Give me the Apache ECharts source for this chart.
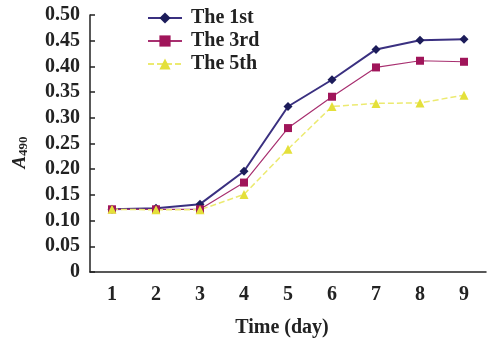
<!DOCTYPE html>
<html><head><meta charset="utf-8">
<script src="https://cdn.jsdelivr.net/npm/echarts@6/dist/echarts.min.js"></script>
<style>html,body{margin:0;padding:0;background:#fff}#c{width:492px;height:345px}</style>
</head><body><div id="c"></div>
<script>
const days = ['1','2','3','4','5','6','7','8','9'];
const first = [0.122, 0.124, 0.132, 0.196, 0.322, 0.374, 0.433, 0.451, 0.453];
const third = [0.122, 0.122, 0.122, 0.174, 0.280, 0.341, 0.398, 0.411, 0.409];
const fifth = [0.122, 0.121, 0.121, 0.151, 0.239, 0.322, 0.328, 0.329, 0.344];
const seriesNames = ['The 1st', 'The 3rd', 'The 5th'];

const font = '"Liberation Serif", "DejaVu Serif", serif';
const chart = echarts.init(document.getElementById('c'));
chart.setOption({
  animation: false,
  backgroundColor: '#fff',
  grid: {left: 90, right: 6, top: 15, bottom: 73, outerBoundsMode: 'none'},
  legend: {
    left: 142, top: 3, orient: 'vertical', itemGap: 3, itemWidth: 34, itemHeight: 14,
    textStyle: {fontFamily: font, fontSize: 20, fontWeight: 'bold', color: '#222', padding: [0, 0, 0, 4]},
    data: seriesNames
  },
  xAxis: {
    type: 'category', data: days, boundaryGap: true,
    name: 'Time (day)', nameLocation: 'middle', nameGap: 46,
    nameTextStyle: {fontFamily: font, fontSize: 20, fontWeight: 'bold', color: '#222', padding: [0, 12, 0, 0]},
    axisLine: {lineStyle: {color: '#222', width: 1.5}},
    axisTick: {inside: true, length: 5, lineStyle: {color: '#222', width: 1.5}},
    axisLabel: {fontFamily: font, fontSize: 20, fontWeight: 'bold', color: '#222', margin: 13},
    splitLine: {show: false}
  },
  yAxis: {
    type: 'value', min: 0, max: 0.5, interval: 0.05,
    name: '{a|A}{s|490}', nameLocation: 'middle', nameGap: 60, nameRotate: 90,
    nameTextStyle: {padding: [0, 18, 0, 0], rich: {
      a: {fontFamily: font, fontSize: 19, fontStyle: 'italic', fontWeight: 'bold', color: '#222'},
      s: {fontFamily: font, fontSize: 13, fontWeight: 'bold', color: '#222', verticalAlign: 'bottom', padding: [7, 0, 0, 0]}
    }},
    axisLine: {show: true, lineStyle: {color: '#222', width: 1.5}},
    axisTick: {show: true, inside: true, length: 5, lineStyle: {color: '#222', width: 1.5}},
    axisLabel: {fontFamily: font, fontSize: 20, fontWeight: 'bold', color: '#222', margin: 10,
      formatter: v => v === 0 ? '0' : v.toFixed(2)},
    splitLine: {show: false}
  },
  series: [
    {name: seriesNames[0], type: 'line', data: first, symbol: 'diamond', symbolSize: 9,
      itemStyle: {color: '#1c1c5a'}, lineStyle: {color: '#3a3080', width: 2}},
    {name: seriesNames[1], type: 'line', data: third, symbol: 'rect', symbolSize: 8,
      itemStyle: {color: '#a0155a'}, lineStyle: {color: '#a83070', width: 1.2}},
    {name: seriesNames[2], type: 'line', data: fifth, symbol: 'triangle', symbolSize: 9,
      itemStyle: {color: '#e4e03a'}, lineStyle: {color: '#ecea70', width: 1.5, type: [6, 3]}}
  ]
});
</script></body></html>
